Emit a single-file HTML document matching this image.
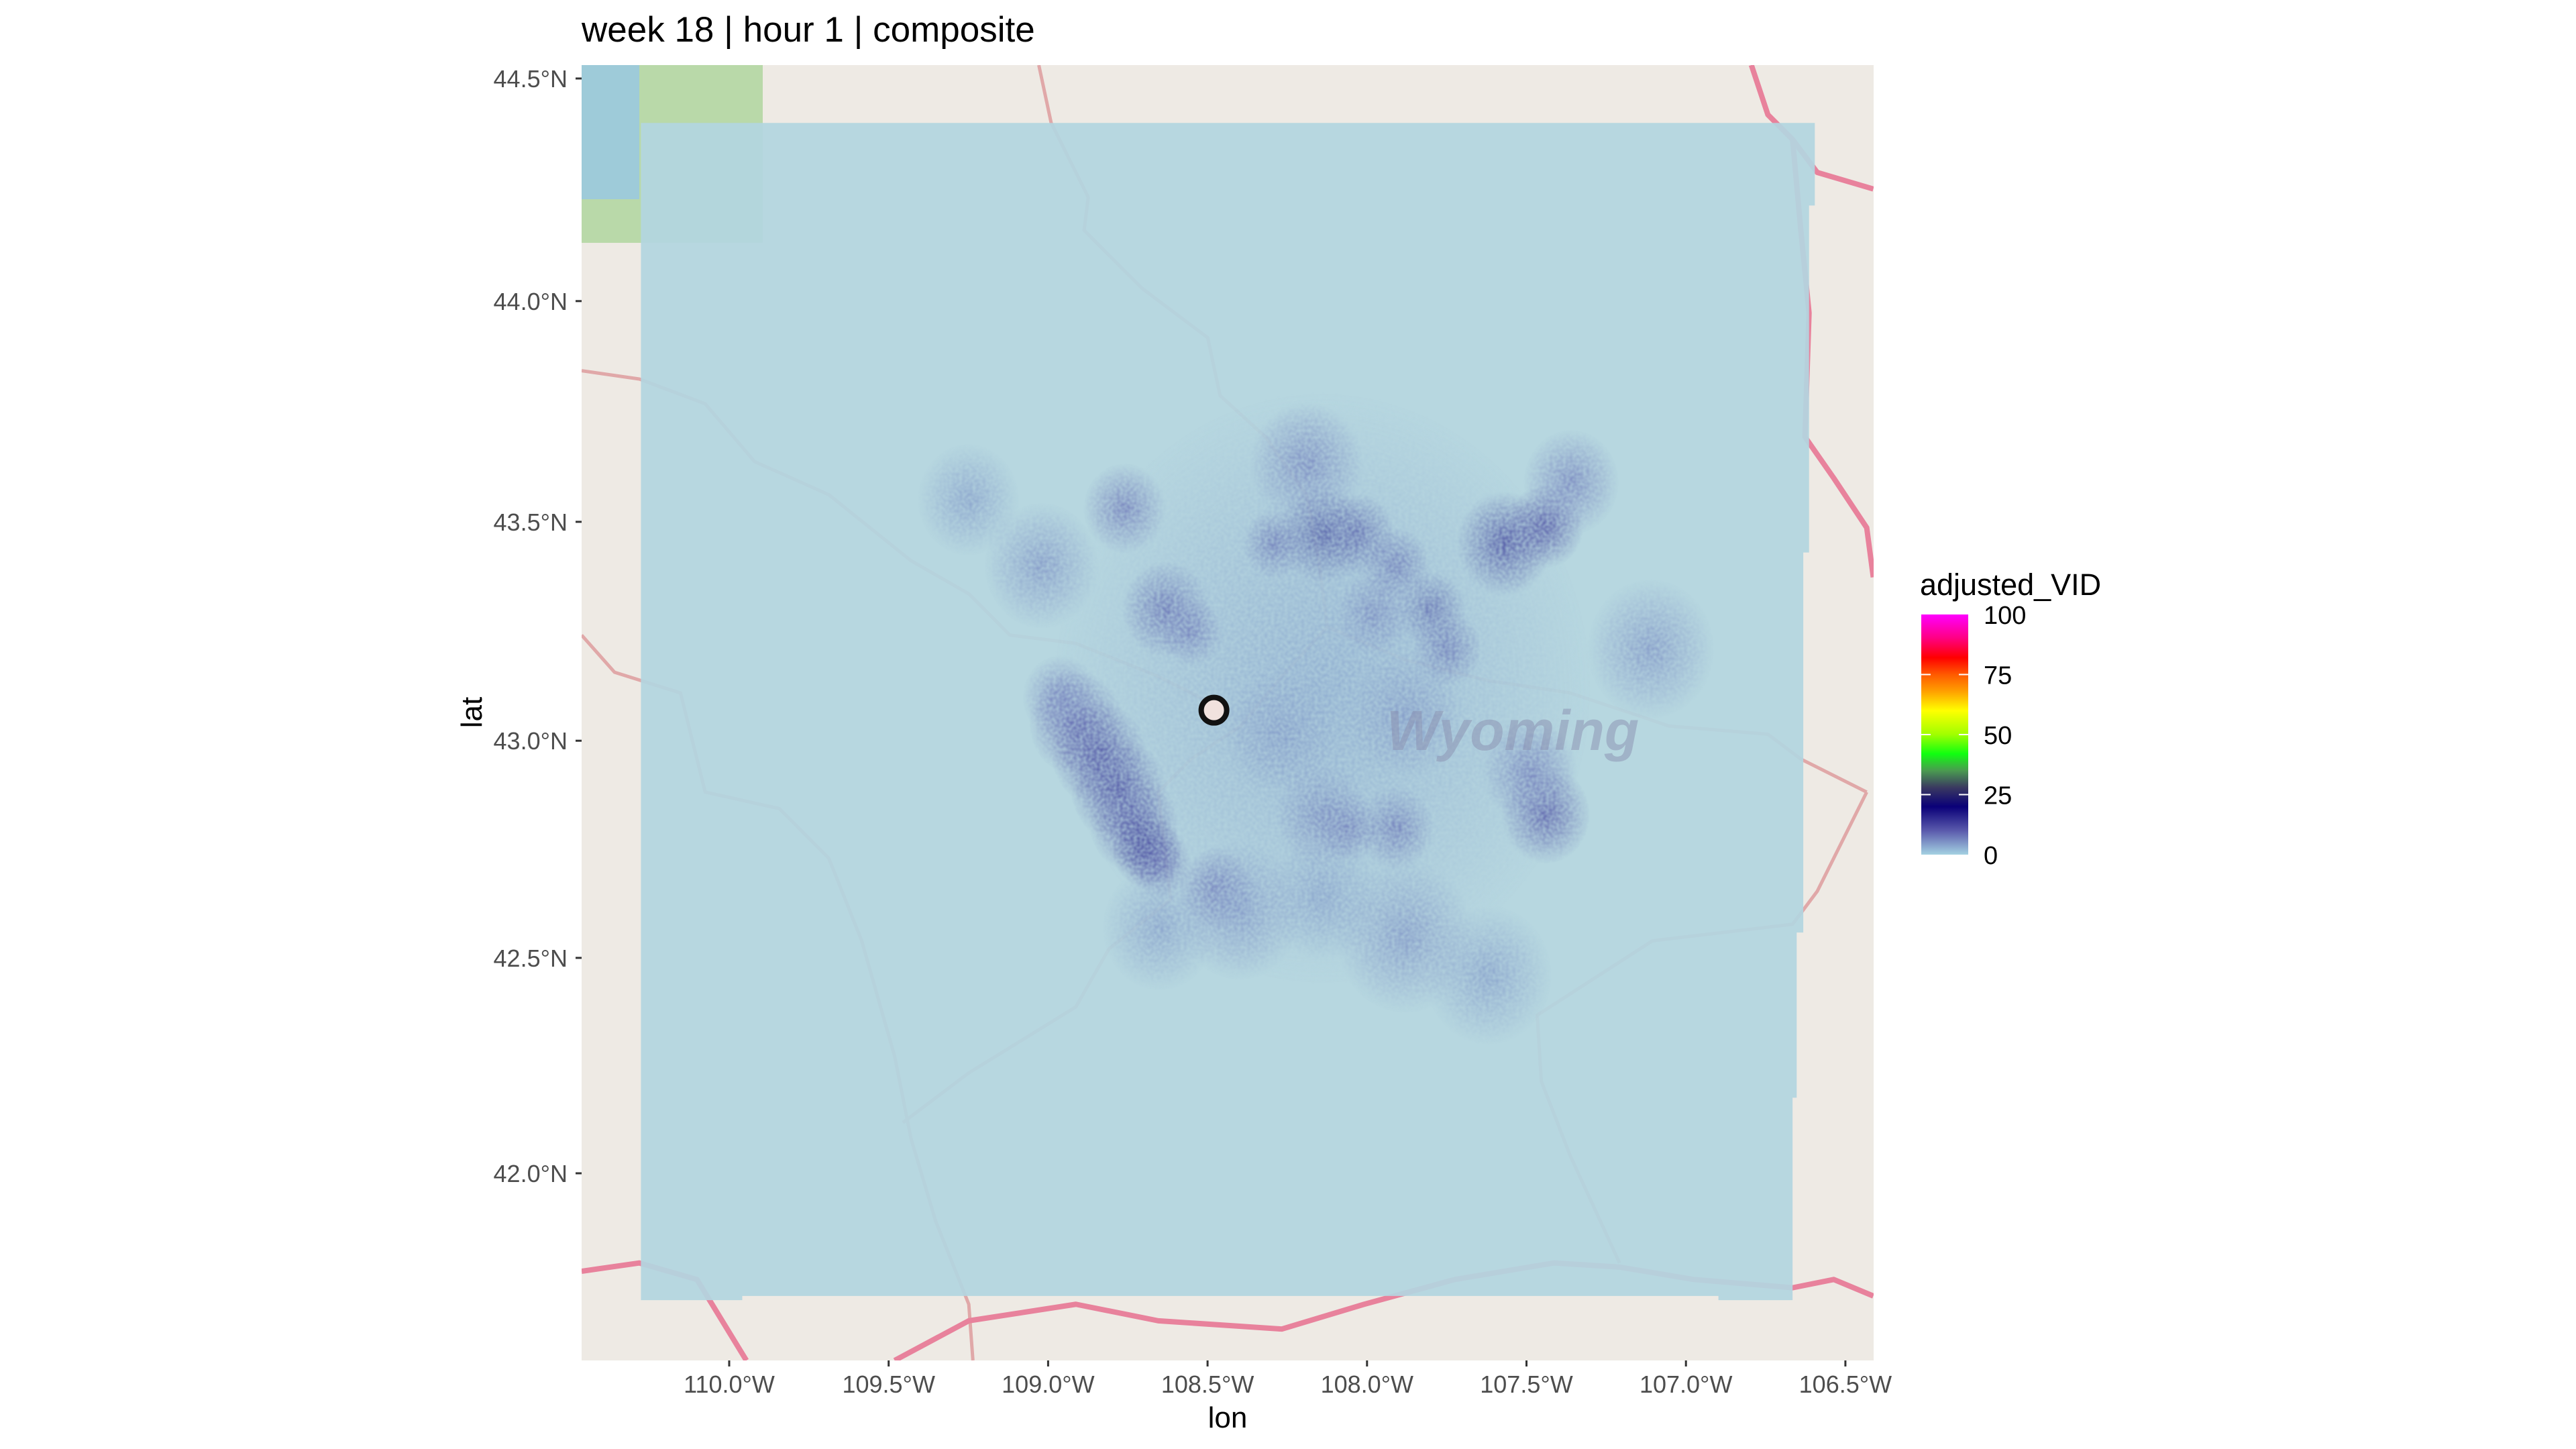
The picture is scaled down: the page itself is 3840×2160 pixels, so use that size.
<!DOCTYPE html>
<html><head><meta charset="utf-8"><style>
html,body{margin:0;padding:0;background:#fff;}
svg{display:block;font-family:"Liberation Sans",sans-serif;}
</style></head><body>
<svg id="chart" width="3840" height="2160" viewBox="0 0 3840 2160" xmlns="http://www.w3.org/2000/svg">
<defs>
<clipPath id="panelClip"><rect x="867" y="97" width="1926" height="1931"/></clipPath>
<linearGradient id="legGrad" x1="0" y1="1" x2="0" y2="0">
<stop offset="0" stop-color="#a4d2e2"/><stop offset="0.10" stop-color="#5a5aac"/><stop offset="0.20" stop-color="#0a0078"/>
<stop offset="0.28" stop-color="#3a3a60"/><stop offset="0.35" stop-color="#4a9a50"/><stop offset="0.42" stop-color="#10ff10"/>
<stop offset="0.50" stop-color="#a0ff00"/><stop offset="0.60" stop-color="#ffff00"/><stop offset="0.68" stop-color="#ffa000"/>
<stop offset="0.75" stop-color="#ff5a00"/><stop offset="0.82" stop-color="#ff0000"/><stop offset="0.90" stop-color="#ff0080"/>
<stop offset="1" stop-color="#ff00ff"/></linearGradient>
<filter id="speckle" x="0" y="0" width="100%" height="100%">
<feTurbulence type="fractalNoise" baseFrequency="0.2" numOctaves="1" seed="4" result="n"/>
<feColorMatrix in="n" type="matrix" values="0 0 0 0 0  0 0 0 0 0  0 0 0 0 0  0 0 0 1.6 -0.3" result="na"/>
<feComposite in="SourceGraphic" in2="na" operator="in"/>
</filter>
</defs>
<rect x="0" y="0" width="3840" height="2160" fill="#ffffff"/>
<text x="867" y="62" font-size="53" fill="#000">week 18 | hour 1 | composite</text>
<g id="panel" clip-path="url(#panelClip)">
<rect x="867" y="97" width="1926" height="1931" fill="#eeeae4"/>
<rect x="867" y="97" width="270" height="265" fill="#b9d9a9"/>
<rect x="867" y="97" width="86" height="200" fill="#9ecbd9"/>
<g id="roads"></g>
<polygon id="overlay" fill="#b3d5e0" fill-opacity="0.93"/>
<g id="heat" filter="url(#speckle)" opacity="0.8"></g>
<g id="heatsoft" opacity="0.35"></g>
<text x="2255" y="1118" font-size="84" font-weight="bold" font-style="italic" fill="#8a90b0" fill-opacity="0.5" text-anchor="middle">Wyoming</text>
<circle id="radar" r="19" fill="#f1e2de" stroke="#111" stroke-width="8"/>
</g>
<g id="yaxis"></g>
<g id="xaxis"></g>
<text x="1830" y="2128" font-size="44" text-anchor="middle" fill="#000">lon</text>
<text x="0" y="0" font-size="44" text-anchor="middle" fill="#000" transform="translate(718,1062) rotate(-90)">lat</text>
<g id="legend">
<text x="2862" y="887" font-size="45" fill="#000">adjusted_VID</text>
<rect x="2864" y="916" width="70" height="358" fill="url(#legGrad)"/>
<g id="legticks"></g>
</g>
</svg>
<script>
const NS="http://www.w3.org/2000/svg";
// axis data
const latTicks=[44.5,44.0,43.5,43.0,42.5,42.0];
const latLabels=["44.5°N","44.0°N","43.5°N","43.0°N","42.5°N","42.0°N"];
const lonTicks=[-110.0,-109.5,-109.0,-108.5,-108.0,-107.5,-107.0,-106.5];
const lonLabels=["110.0°W","109.5°W","109.0°W","108.5°W","108.0°W","107.5°W","107.0°W","106.5°W"];
const legendValues=[0,25,50,75,100];
// heat blob data
const blobLon=[-108.91,-108.84,-108.78,-108.73,-108.69,-108.65,-108.47,-108.96,
 -108.14,-108.03,-108.29,-107.91,-107.80,-107.75,-107.98,-108.19,
 -107.57,-107.44,-107.36,
 -108.76,-108.63,-108.55,-109.02,-109.25,
 -108.14,-107.91,-108.06,-108.27,-107.88,
 -107.44,-107.49,-107.11,
 -108.40,-107.88,-107.62,-108.14,-108.65,-108.14];
const blobLat=[43.04,42.97,42.89,42.81,42.75,42.72,42.66,43.10,
 43.47,43.47,43.45,43.40,43.30,43.21,43.29,43.63,
 43.45,43.49,43.59,
 43.53,43.30,43.25,43.40,43.55,
 42.83,42.80,42.80,43.02,43.06,
 42.83,42.93,43.21,
 42.61,42.55,42.46,42.64,42.57,43.12];
const blobVal=[12,14,15,14,18,12,10,8,
 18,14,12,12,14,12,10,8,
 16,14,8,
 9,12,10,6,5,
 9,11,10,7,7,
 13,9,6,
 6,6,5,5,5,4];
const blobSpread=[0.15,0.15,0.15,0.14,0.11,0.1,0.12,0.12,
 0.14,0.12,0.1,0.11,0.11,0.11,0.12,0.18,
 0.15,0.12,0.15,
 0.13,0.14,0.1,0.18,0.16,
 0.15,0.12,0.1,0.18,0.18,
 0.14,0.15,0.2,
 0.2,0.22,0.2,0.18,0.18,0.85];

const X0=1087, XS=475.4;
function xs(lon){return X0+(lon+110)*XS;}
function merc(lat){const r=lat*Math.PI/180;return Math.log(Math.tan(Math.PI/4+r/2));}
const mTop=merc(44.5), mBot=merc(42.0);
function ys(lat){return 117+(mTop-merc(lat))/(mTop-mBot)*(1749-117);}
const legStops=[[0,[164,210,226]],[10,[90,90,172]],[20,[10,0,120]],[28,[58,58,96]],[35,[74,154,80]],[42,[16,255,16]],[50,[160,255,0]],[60,[255,255,0]],[68,[255,160,0]],[75,[255,90,0]],[82,[255,0,0]],[90,[255,0,128]],[100,[255,0,255]]];
function colorOf(v){for(let i=1;i<legStops.length;i++){if(v<=legStops[i][0]){const a=legStops[i-1],b=legStops[i];const t=(v-a[0])/(b[0]-a[0]);const c=a[1].map((x,k)=>Math.round(x+(b[1][k]-x)*t));return `rgb(${c[0]},${c[1]},${c[2]})`;}}return "rgb(255,0,255)";}
function legY(v){return 1274-v/100*358;}

function zX(z){return 867+z*1.228;} function zY(z){return 97+z*1.2315;}
const overlayZ=[[72,70],[1497,70],[1497,170],[1490,170],[1490,590],[1483,590],[1483,1050],[1475,1050],[1475,1250],[1470,1250],[1470,1495],[1380,1495],[1380,1490],[195,1490],[195,1495],[72,1495]];
document.getElementById('overlay').setAttribute('points',overlayZ.map(p=>zX(p[0])+','+zY(p[1])).join(' '));

const roadsZ=[
 [[555,0],[570,70],[615,160],[610,200],[680,270],[760,330],[775,400],[830,450],[880,520],[895,600],[905,680],[850,740],[800,800],[740,840],[700,880],[715,1010],[640,1070],[600,1140],[470,1220],[390,1280]],
 [[0,370],[70,380],[150,410],[210,480],[300,520],[400,600],[470,640],[520,690],[600,700],[700,740],[760,770]],
 [[0,690],[40,735],[120,760],[150,880],[240,900],[300,960],[340,1060],[380,1200],[400,1300],[430,1400],[470,1500],[475,1568]],
 [[905,680],[1000,720],[1100,745],[1200,760],[1320,800],[1440,810],[1480,840],[1560,880]],
 [[1560,880],[1500,1000],[1470,1040],[1300,1060],[1160,1150],[1165,1230],[1200,1320],[1260,1450]],
 [[0,1460],[70,1450],[140,1470],[200,1568]],
 [[380,1568],[470,1520],[600,1500],[700,1520],[850,1530],[950,1500],[1060,1470],[1180,1450],[1260,1455],[1350,1470],[1470,1480],[1520,1470],[1568,1490]],
 [[1420,0],[1440,60],[1470,90],[1480,200],[1490,300],[1485,450],[1520,500],[1560,560],[1568,620]],
 [[1470,90],[1500,130],[1568,150]]
];
const roadsG=document.getElementById('roads');
roadsZ.forEach((r,i)=>{const p=document.createElementNS(NS,'polyline');


p.setAttribute('points',r.map(q=>zX(q[0])+','+zY(q[1])).join(' '));
p.setAttribute('fill','none');p.setAttribute('stroke',i>=5?'#e8829c':'#e0a8a8');p.setAttribute('stroke-width',i>=5?8:5);p.setAttribute('stroke-linejoin','round');
roadsG.appendChild(p);});

const heat=document.getElementById('heat'), soft=document.getElementById('heatsoft');
const defs=document.querySelector('defs');
blobLon.forEach((lon,i)=>{
 const id='bg'+i;const g=document.createElementNS(NS,'radialGradient');g.setAttribute('id',id);
 const c=colorOf(blobVal[i]);
 g.innerHTML=`<stop offset="0" stop-color="${c}" stop-opacity="0.8"/><stop offset="0.45" stop-color="${c}" stop-opacity="0.4"/><stop offset="1" stop-color="${c}" stop-opacity="0"/>`;
 defs.appendChild(g);
 [heat,soft].forEach(layer=>{
 const e=document.createElementNS(NS,'ellipse');
 
 
 e.setAttribute('cx',xs(lon));e.setAttribute('cy',ys(blobLat[i]));
 e.setAttribute('rx',blobSpread[i]*XS);e.setAttribute('ry',blobSpread[i]*XS*1.1);
 e.setAttribute('fill',`url(#${id})`);
 layer.appendChild(e);});
});
const radar=document.getElementById('radar');
radar.setAttribute('cx',xs(-108.48));radar.setAttribute('cy',ys(43.07));

const ya=document.getElementById('yaxis');
latTicks.forEach((v,i)=>{const y=ys(v);
 const t=document.createElementNS(NS,'line');
 
 
 t.setAttribute('x1',858);t.setAttribute('x2',867);t.setAttribute('y1',y);t.setAttribute('y2',y);t.setAttribute('stroke','#333');t.setAttribute('stroke-width',3);ya.appendChild(t);
 const l=document.createElementNS(NS,'text');
 
 
 l.setAttribute('x',846);l.setAttribute('y',y+13);l.setAttribute('text-anchor','end');l.setAttribute('font-size',36);l.setAttribute('fill','#4d4d4d');l.textContent=latLabels[i];ya.appendChild(l);});
const xa=document.getElementById('xaxis');
lonTicks.forEach((v,i)=>{const x=xs(v);
 const t=document.createElementNS(NS,'line');
 
 
 t.setAttribute('x1',x);t.setAttribute('x2',x);t.setAttribute('y1',2028);t.setAttribute('y2',2037);t.setAttribute('stroke','#333');t.setAttribute('stroke-width',3);xa.appendChild(t);
 const l=document.createElementNS(NS,'text');
 
 
 l.setAttribute('x',x);l.setAttribute('y',2076);l.setAttribute('text-anchor','middle');l.setAttribute('font-size',36);l.setAttribute('fill','#4d4d4d');l.textContent=lonLabels[i];xa.appendChild(l);});

const lt=document.getElementById('legticks');
legendValues.forEach(v=>{const y=legY(v);
 if(v>0&&v<100){[[2864,2878],[2920,2934]].forEach(s=>{const t=document.createElementNS(NS,'line');
 
 
 t.setAttribute('x1',s[0]);t.setAttribute('x2',s[1]);t.setAttribute('y1',y);t.setAttribute('y2',y);t.setAttribute('stroke','#fff');t.setAttribute('stroke-width',2);lt.appendChild(t);});}
 const l=document.createElementNS(NS,'text');
 
 
 l.setAttribute('x',2957);l.setAttribute('y',y+14);l.setAttribute('font-size',38);l.setAttribute('fill','#000');l.textContent=v;lt.appendChild(l);});
</script>
</body></html>
